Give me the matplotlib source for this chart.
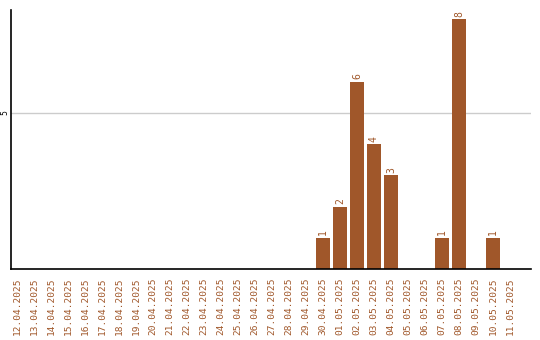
import matplotlib.pyplot as plt

dates = ['12.04.2025', '13.04.2025', '14.04.2025', '15.04.2025', '16.04.2025',
         '17.04.2025', '18.04.2025', '19.04.2025', '20.04.2025', '21.04.2025',
         '22.04.2025', '23.04.2025', '24.04.2025', '25.04.2025', '26.04.2025',
         '27.04.2025', '28.04.2025', '29.04.2025', '30.04.2025', '01.05.2025',
         '02.05.2025', '03.05.2025', '04.05.2025', '05.05.2025', '06.05.2025',
         '07.05.2025', '08.05.2025', '09.05.2025', '10.05.2025', '11.05.2025']
counts = [0, 0, 0, 0, 0, 0, 0, 0, 0, 0, 0, 0, 0, 0, 0, 0, 0, 0,
          1, 2, 6, 4, 3, 0, 0, 1, 8, 0, 1, 0]

color = '#A0572A'

fig = plt.figure(figsize=(5.4, 3.4), dpi=100)
ax = fig.add_axes([0.0204, 0.2088, 0.9630, 0.7618])

x = range(len(dates))
ax.bar(x, counts, width=0.82, color=color, zorder=2)
for i, v in enumerate(counts):
    if v > 0:
        ax.text(i, v + 0.08, str(v), rotation=90, ha='center', va='bottom',
                color=color, fontsize=7, family='DejaVu Sans Mono')

ax.set_xlim(-0.35, 30.24)
ax.set_ylim(0, 8.3)
ax.set_yticks([5])
ax.set_yticklabels(['5'], rotation=90, va='center', fontsize=5.5)
ax.set_xticks(list(x))
ax.set_xticklabels(dates, rotation=90, color=color, fontsize=6.8,
                   family='DejaVu Sans Mono')
ax.tick_params(length=0)
ax.tick_params(axis='x', pad=6)
ax.tick_params(axis='y', pad=1)
ax.grid(axis='y', color='#cccccc', linewidth=1, zorder=0)
ax.spines['top'].set_visible(False)
ax.spines['right'].set_visible(False)
ax.spines['left'].set_linewidth(1.2)
ax.spines['bottom'].set_linewidth(1.2)

fig.savefig('out.png', dpi=100)
